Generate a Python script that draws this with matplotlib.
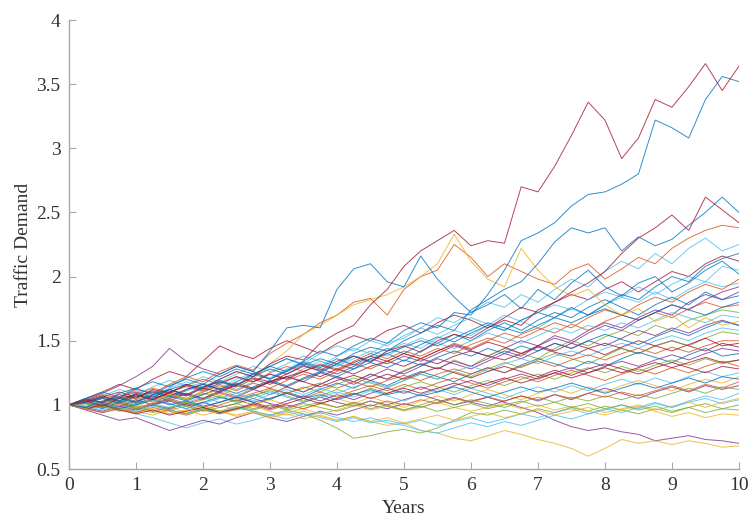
import numpy as np
import matplotlib
matplotlib.use('Agg')
import matplotlib.pyplot as plt
from matplotlib.ticker import FuncFormatter

# sample times (years), one value every quarter year
years = np.linspace(0, 10, 41)

# demand paths (quarter-year samples)
p01 = [1.00, 1.04, 1.02, 1.08, 1.05, 1.12, 1.09, 1.16, 1.13, 1.20, 1.26, 1.22, 1.32, 1.38, 1.35, 1.48, 1.56, 1.62, 1.78, 1.90, 2.08, 2.20, 2.28, 2.36, 2.24, 2.28, 2.26, 2.70, 2.66, 2.86, 3.10, 3.36, 3.22, 2.92, 3.08, 3.38, 3.32, 3.48, 3.66, 3.45, 3.64]
p02 = [1.00, 0.98, 1.03, 1.06, 1.02, 1.08, 1.12, 1.07, 1.14, 1.18, 1.15, 1.24, 1.30, 1.26, 1.34, 1.42, 1.38, 1.46, 1.52, 1.48, 1.58, 1.64, 1.60, 1.72, 1.70, 1.86, 2.05, 2.28, 2.34, 2.42, 2.55, 2.64, 2.66, 2.72, 2.80, 3.22, 3.16, 3.08, 3.38, 3.56, 3.52]
p03 = [1.00, 1.03, 0.99, 1.05, 1.08, 1.04, 1.10, 1.07, 1.13, 1.10, 1.16, 1.21, 1.18, 1.24, 1.30, 1.27, 1.34, 1.38, 1.33, 1.42, 1.46, 1.41, 1.50, 1.55, 1.52, 1.60, 1.66, 1.62, 1.74, 1.80, 1.88, 1.95, 2.04, 2.18, 2.30, 2.38, 2.48, 2.36, 2.62, 2.52, 2.42]
p04 = [1.00, 1.02, 1.06, 1.03, 1.09, 1.05, 1.12, 1.16, 1.12, 1.19, 1.15, 1.22, 1.28, 1.24, 1.31, 1.36, 1.32, 1.40, 1.45, 1.42, 1.50, 1.56, 1.62, 1.58, 1.74, 1.82, 1.90, 1.96, 2.10, 2.27, 2.38, 2.34, 2.38, 2.20, 2.31, 2.24, 2.29, 2.40, 2.50, 2.62, 2.50]
p05 = [1.00, 1.05, 1.02, 1.09, 1.13, 1.08, 1.15, 1.20, 1.16, 1.24, 1.30, 1.26, 1.42, 1.60, 1.62, 1.60, 1.90, 2.06, 2.10, 1.96, 1.92, 2.16, 1.98, 1.84, 1.72, 1.78, 1.86, 1.75, 1.90, 1.82, 1.95, 2.05, 1.92, 1.85, 1.95, 2.00, 1.88, 1.95, 2.05, 2.12, 2.02]
p06 = [1.00, 0.97, 1.03, 1.00, 1.06, 1.02, 1.08, 1.05, 1.11, 1.07, 1.14, 1.20, 1.32, 1.42, 1.55, 1.62, 1.70, 1.78, 1.82, 1.86, 1.92, 2.00, 2.10, 2.33, 2.12, 1.98, 1.92, 2.22, 2.05, 1.92, 1.85, 1.90, 1.78, 1.70, 1.75, 1.65, 1.70, 1.60, 1.68, 1.62, 1.65]
p07 = [1.00, 1.04, 1.08, 1.05, 1.12, 1.09, 1.16, 1.22, 1.18, 1.26, 1.31, 1.27, 1.40, 1.48, 1.55, 1.64, 1.70, 1.80, 1.83, 1.70, 1.90, 2.00, 2.05, 2.25, 2.15, 2.00, 2.10, 2.04, 1.98, 1.94, 2.05, 2.10, 1.98, 2.06, 2.15, 2.10, 2.22, 2.30, 2.36, 2.40, 2.38]
p08 = [1.00, 1.03, 1.07, 1.02, 1.06, 1.10, 1.05, 1.12, 1.17, 1.13, 1.20, 1.25, 1.21, 1.28, 1.34, 1.30, 1.38, 1.44, 1.40, 1.48, 1.52, 1.60, 1.68, 1.64, 1.72, 1.80, 1.76, 1.86, 1.80, 1.90, 1.98, 1.92, 2.04, 2.12, 2.06, 2.18, 2.10, 2.22, 2.30, 2.20, 2.25]
p09 = [1.00, 1.05, 1.10, 1.16, 1.12, 1.20, 1.26, 1.22, 1.34, 1.46, 1.40, 1.36, 1.44, 1.50, 1.45, 1.40, 1.48, 1.54, 1.50, 1.58, 1.62, 1.56, 1.64, 1.70, 1.66, 1.60, 1.68, 1.76, 1.72, 1.80, 1.86, 1.82, 1.90, 1.96, 1.88, 1.96, 2.04, 2.00, 2.10, 2.16, 2.12]
p10 = [1.00, 1.04, 1.09, 1.15, 1.22, 1.30, 1.44, 1.34, 1.28, 1.24, 1.30, 1.26, 1.20, 1.26, 1.32, 1.28, 1.24, 1.30, 1.36, 1.32, 1.38, 1.34, 1.40, 1.46, 1.42, 1.38, 1.44, 1.50, 1.46, 1.54, 1.50, 1.58, 1.64, 1.60, 1.68, 1.74, 1.70, 1.80, 1.86, 1.82, 1.88]
p11 = [1.00, 0.98, 1.02, 1.06, 1.01, 1.05, 1.09, 1.04, 1.08, 1.12, 1.07, 1.13, 1.18, 1.14, 1.10, 1.16, 1.22, 1.18, 1.24, 1.20, 1.27, 1.32, 1.28, 1.35, 1.30, 1.38, 1.44, 1.40, 1.36, 1.44, 1.50, 1.46, 1.53, 1.58, 1.54, 1.62, 1.58, 1.66, 1.70, 1.74, 1.72]
p12 = [1.00, 1.02, 0.98, 1.03, 1.08, 1.04, 1.10, 1.14, 1.10, 1.16, 1.12, 1.18, 1.24, 1.20, 1.28, 1.34, 1.30, 1.38, 1.34, 1.42, 1.48, 1.44, 1.52, 1.58, 1.54, 1.62, 1.70, 1.65, 1.60, 1.68, 1.75, 1.70, 1.78, 1.84, 1.80, 1.88, 1.82, 1.90, 1.96, 1.92, 1.95]
p13 = [1.00, 1.03, 1.00, 1.05, 1.02, 1.07, 1.12, 1.08, 1.04, 1.10, 1.15, 1.12, 1.18, 1.22, 1.18, 1.25, 1.32, 1.28, 1.36, 1.40, 1.34, 1.42, 1.48, 1.55, 1.50, 1.58, 1.64, 1.58, 1.66, 1.72, 1.68, 1.76, 1.82, 1.76, 1.70, 1.78, 1.84, 1.78, 1.88, 1.82, 1.85]
p14 = [1.00, 1.02, 1.06, 1.03, 1.08, 1.13, 1.10, 1.15, 1.20, 1.16, 1.22, 1.18, 1.25, 1.30, 1.26, 1.32, 1.28, 1.34, 1.40, 1.36, 1.42, 1.38, 1.44, 1.40, 1.47, 1.52, 1.48, 1.55, 1.60, 1.56, 1.63, 1.58, 1.65, 1.70, 1.66, 1.72, 1.68, 1.75, 1.80, 1.76, 1.78]
p15 = [1.00, 1.04, 1.01, 1.06, 1.10, 1.06, 1.12, 1.08, 1.14, 1.18, 1.14, 1.20, 1.16, 1.22, 1.26, 1.22, 1.28, 1.24, 1.30, 1.34, 1.30, 1.36, 1.32, 1.38, 1.42, 1.38, 1.35, 1.40, 1.45, 1.41, 1.38, 1.44, 1.48, 1.44, 1.40, 1.46, 1.50, 1.46, 1.42, 1.48, 1.45]
p16 = [1.00, 0.97, 1.01, 0.98, 1.03, 1.07, 1.03, 1.09, 1.05, 1.11, 1.16, 1.12, 1.18, 1.14, 1.20, 1.25, 1.21, 1.16, 1.22, 1.28, 1.24, 1.30, 1.36, 1.32, 1.28, 1.34, 1.40, 1.36, 1.42, 1.48, 1.44, 1.50, 1.46, 1.52, 1.58, 1.54, 1.60, 1.56, 1.62, 1.66, 1.62]
p17 = [1.00, 1.02, 0.99, 1.03, 0.99, 1.04, 1.08, 1.04, 1.09, 1.06, 1.02, 1.07, 1.12, 1.09, 1.14, 1.10, 1.16, 1.21, 1.17, 1.13, 1.19, 1.24, 1.20, 1.26, 1.22, 1.28, 1.33, 1.29, 1.35, 1.40, 1.36, 1.32, 1.38, 1.44, 1.40, 1.46, 1.50, 1.46, 1.52, 1.57, 1.55]
p18 = [1.00, 1.03, 1.07, 1.12, 1.08, 1.14, 1.19, 1.15, 1.22, 1.18, 1.24, 1.30, 1.26, 1.32, 1.38, 1.34, 1.30, 1.36, 1.42, 1.38, 1.46, 1.52, 1.48, 1.44, 1.50, 1.56, 1.52, 1.48, 1.54, 1.60, 1.56, 1.62, 1.58, 1.64, 1.60, 1.66, 1.72, 1.68, 1.64, 1.70, 1.68]
p19 = [1.00, 0.98, 1.02, 0.97, 1.01, 1.05, 1.01, 0.97, 1.02, 1.06, 1.03, 1.08, 1.04, 1.10, 1.06, 1.12, 1.17, 1.13, 1.19, 1.15, 1.21, 1.26, 1.22, 1.18, 1.24, 1.29, 1.25, 1.31, 1.36, 1.32, 1.28, 1.34, 1.30, 1.36, 1.41, 1.37, 1.33, 1.39, 1.44, 1.38, 1.40]
p20 = [1.00, 1.02, 0.98, 1.01, 0.97, 1.00, 1.04, 1.00, 0.96, 1.00, 1.04, 1.00, 1.05, 1.09, 1.05, 1.10, 1.06, 1.11, 1.15, 1.11, 1.16, 1.12, 1.17, 1.21, 1.17, 1.13, 1.18, 1.22, 1.18, 1.23, 1.27, 1.23, 1.19, 1.24, 1.28, 1.24, 1.29, 1.25, 1.30, 1.34, 1.30]
p21 = [1.00, 0.97, 0.94, 0.98, 0.95, 0.92, 0.96, 0.93, 0.97, 1.00, 0.96, 1.00, 1.04, 1.00, 0.97, 1.01, 1.05, 1.01, 1.06, 1.02, 0.98, 1.03, 1.07, 1.03, 1.08, 1.12, 1.08, 1.04, 1.09, 1.13, 1.09, 1.14, 1.10, 1.15, 1.19, 1.15, 1.11, 1.16, 1.20, 1.17, 1.22]
p22 = [1.00, 1.02, 0.98, 1.01, 0.97, 1.00, 1.03, 0.99, 1.02, 0.98, 1.01, 1.05, 1.01, 0.98, 1.02, 1.06, 1.02, 0.99, 1.03, 1.00, 1.04, 1.08, 1.04, 1.00, 1.03, 1.06, 1.02, 0.98, 0.94, 0.88, 0.83, 0.80, 0.82, 0.79, 0.77, 0.72, 0.74, 0.76, 0.73, 0.72, 0.70]
p23 = [1.00, 0.98, 1.01, 0.97, 0.99, 0.95, 0.98, 0.94, 0.97, 0.93, 0.96, 0.99, 0.95, 0.92, 0.95, 0.91, 0.88, 0.91, 0.87, 0.84, 0.86, 0.80, 0.78, 0.74, 0.72, 0.76, 0.80, 0.77, 0.73, 0.70, 0.66, 0.60, 0.66, 0.73, 0.70, 0.72, 0.69, 0.72, 0.70, 0.67, 0.68]
p24 = [1.00, 0.97, 0.99, 0.95, 0.97, 0.94, 0.96, 0.93, 0.97, 0.94, 0.98, 0.95, 0.92, 0.96, 0.93, 0.88, 0.82, 0.74, 0.76, 0.79, 0.81, 0.78, 0.82, 0.88, 0.94, 0.92, 0.96, 0.93, 0.97, 0.94, 0.98, 0.95, 0.99, 0.96, 0.93, 0.97, 0.94, 0.98, 1.01, 0.97, 1.00]
p25 = [1.00, 0.97, 0.94, 0.97, 0.93, 0.90, 0.86, 0.82, 0.86, 0.89, 0.85, 0.88, 0.92, 0.89, 0.93, 0.90, 0.87, 0.90, 0.86, 0.88, 0.85, 0.88, 0.84, 0.87, 0.90, 0.86, 0.89, 0.93, 0.90, 0.94, 0.97, 0.93, 0.96, 1.00, 0.97, 1.01, 0.98, 1.02, 1.05, 1.01, 1.04]
p26 = [1.00, 0.96, 0.92, 0.88, 0.90, 0.85, 0.80, 0.84, 0.88, 0.85, 0.90, 0.94, 0.90, 0.87, 0.91, 0.95, 0.92, 0.96, 1.00, 0.97, 1.01, 0.98, 1.02, 1.06, 1.02, 0.99, 1.03, 1.07, 1.03, 1.08, 1.04, 1.09, 1.13, 1.09, 1.05, 1.10, 1.14, 1.10, 1.15, 1.12, 1.15]
p27 = [1.00, 1.04, 1.00, 1.06, 1.11, 1.07, 1.13, 1.18, 1.14, 1.20, 1.26, 1.22, 1.30, 1.36, 1.32, 1.40, 1.46, 1.42, 1.50, 1.46, 1.54, 1.60, 1.55, 1.62, 1.68, 1.63, 1.58, 1.66, 1.72, 1.78, 1.74, 1.82, 1.88, 1.84, 1.92, 1.86, 1.94, 2.00, 1.96, 2.08, 2.05]
p28 = [1.00, 1.01, 1.05, 1.02, 1.07, 1.04, 1.09, 1.05, 1.10, 1.15, 1.11, 1.17, 1.13, 1.19, 1.24, 1.20, 1.26, 1.32, 1.28, 1.34, 1.40, 1.36, 1.42, 1.48, 1.44, 1.50, 1.56, 1.52, 1.58, 1.64, 1.60, 1.68, 1.74, 1.70, 1.78, 1.84, 1.80, 1.88, 1.94, 1.90, 1.98]
p29 = [1.00, 0.98, 1.02, 0.99, 1.04, 1.00, 1.05, 1.09, 1.05, 1.10, 1.06, 1.12, 1.08, 1.14, 1.10, 1.16, 1.22, 1.18, 1.24, 1.20, 1.26, 1.32, 1.28, 1.34, 1.30, 1.36, 1.42, 1.38, 1.46, 1.52, 1.48, 1.56, 1.62, 1.58, 1.66, 1.72, 1.78, 1.74, 1.82, 1.88, 1.92]
p30 = [1.00, 1.05, 1.10, 1.06, 1.13, 1.18, 1.14, 1.21, 1.26, 1.22, 1.28, 1.24, 1.30, 1.36, 1.31, 1.26, 1.32, 1.38, 1.34, 1.40, 1.45, 1.50, 1.46, 1.52, 1.58, 1.64, 1.60, 1.56, 1.62, 1.68, 1.64, 1.70, 1.75, 1.70, 1.66, 1.72, 1.78, 1.74, 1.70, 1.76, 1.80]
p31 = [1.00, 1.02, 1.05, 1.01, 1.04, 1.08, 1.04, 1.00, 1.04, 1.07, 1.03, 1.07, 1.11, 1.07, 1.03, 1.07, 1.12, 1.08, 1.13, 1.09, 1.14, 1.18, 1.14, 1.10, 1.15, 1.19, 1.15, 1.20, 1.24, 1.20, 1.25, 1.29, 1.25, 1.30, 1.26, 1.31, 1.35, 1.31, 1.36, 1.32, 1.35]
p32 = [1.00, 0.99, 0.96, 1.00, 0.97, 1.01, 0.98, 1.02, 1.06, 1.02, 1.07, 1.03, 1.08, 1.12, 1.08, 1.13, 1.09, 1.14, 1.18, 1.14, 1.19, 1.24, 1.20, 1.26, 1.30, 1.26, 1.32, 1.36, 1.32, 1.38, 1.42, 1.38, 1.44, 1.48, 1.44, 1.50, 1.54, 1.50, 1.56, 1.60, 1.58]
p33 = [1.00, 1.03, 0.99, 1.02, 0.98, 1.01, 1.05, 1.01, 1.05, 1.09, 1.05, 1.09, 1.13, 1.09, 1.13, 1.17, 1.13, 1.18, 1.14, 1.19, 1.23, 1.19, 1.24, 1.28, 1.24, 1.29, 1.25, 1.30, 1.34, 1.30, 1.35, 1.39, 1.35, 1.40, 1.44, 1.40, 1.45, 1.41, 1.46, 1.50, 1.50]
p34 = [1.00, 1.03, 1.07, 1.03, 1.08, 1.04, 1.10, 1.15, 1.11, 1.17, 1.22, 1.18, 1.24, 1.20, 1.26, 1.31, 1.27, 1.33, 1.38, 1.34, 1.40, 1.36, 1.42, 1.47, 1.43, 1.49, 1.45, 1.40, 1.46, 1.42, 1.48, 1.44, 1.39, 1.45, 1.50, 1.46, 1.42, 1.47, 1.52, 1.46, 1.48]
p35 = [1.00, 1.01, 0.97, 1.02, 1.06, 1.02, 1.07, 1.03, 1.08, 1.13, 1.09, 1.14, 1.19, 1.15, 1.21, 1.26, 1.22, 1.28, 1.33, 1.29, 1.35, 1.31, 1.37, 1.42, 1.38, 1.44, 1.40, 1.46, 1.42, 1.48, 1.44, 1.50, 1.55, 1.51, 1.47, 1.53, 1.58, 1.54, 1.60, 1.65, 1.62]
p36 = [1.00, 0.98, 0.95, 0.99, 0.96, 1.00, 0.97, 1.01, 0.98, 1.02, 1.06, 1.02, 0.98, 1.03, 1.07, 1.03, 1.08, 1.04, 1.09, 1.13, 1.09, 1.14, 1.10, 1.15, 1.19, 1.15, 1.20, 1.24, 1.20, 1.25, 1.29, 1.25, 1.30, 1.34, 1.30, 1.35, 1.39, 1.35, 1.40, 1.44, 1.42]
p37 = [1.00, 0.98, 1.01, 0.97, 0.94, 0.97, 0.93, 0.96, 0.99, 0.95, 0.92, 0.95, 0.91, 0.94, 0.97, 0.93, 0.96, 1.00, 0.96, 0.99, 0.95, 0.98, 1.02, 0.98, 0.95, 0.98, 1.01, 0.97, 1.00, 0.96, 0.99, 0.95, 0.92, 0.96, 0.99, 0.95, 0.91, 0.94, 0.90, 0.93, 0.92]
p38 = [1.00, 0.97, 1.00, 0.96, 0.99, 0.95, 0.98, 1.02, 0.98, 0.95, 0.99, 0.96, 1.00, 0.97, 1.01, 0.98, 0.95, 0.99, 1.03, 0.99, 0.96, 1.00, 1.04, 1.00, 1.04, 1.01, 0.98, 1.02, 1.06, 1.02, 1.06, 1.03, 1.07, 1.04, 1.08, 1.05, 1.09, 1.13, 1.09, 1.14, 1.12]
p39 = [1.00, 1.03, 0.99, 1.04, 1.00, 1.05, 1.01, 0.97, 1.01, 1.05, 1.09, 1.05, 1.10, 1.06, 1.02, 1.06, 1.10, 1.06, 1.11, 1.07, 1.03, 1.08, 1.12, 1.08, 1.13, 1.09, 1.05, 1.10, 1.14, 1.10, 1.15, 1.11, 1.16, 1.20, 1.16, 1.21, 1.17, 1.22, 1.26, 1.22, 1.25]
p40 = [1.00, 1.02, 1.06, 1.10, 1.06, 1.11, 1.07, 1.12, 1.16, 1.12, 1.17, 1.13, 1.18, 1.22, 1.18, 1.14, 1.19, 1.23, 1.19, 1.24, 1.20, 1.25, 1.29, 1.25, 1.21, 1.26, 1.30, 1.26, 1.22, 1.27, 1.23, 1.28, 1.32, 1.28, 1.24, 1.29, 1.33, 1.29, 1.25, 1.30, 1.28]
p41 = [1.00, 0.98, 1.01, 0.97, 1.00, 1.04, 1.00, 1.03, 0.99, 1.02, 1.06, 1.02, 1.05, 1.09, 1.05, 1.08, 1.04, 1.08, 1.12, 1.08, 1.11, 1.07, 1.10, 1.14, 1.10, 1.06, 1.10, 1.14, 1.10, 1.13, 1.17, 1.13, 1.09, 1.13, 1.17, 1.13, 1.17, 1.21, 1.17, 1.22, 1.20]
p42 = [1.00, 0.97, 0.94, 0.97, 0.94, 0.98, 0.95, 0.92, 0.96, 0.93, 0.97, 1.00, 0.96, 1.00, 0.97, 1.01, 0.98, 1.02, 0.99, 1.03, 1.00, 1.04, 1.01, 1.05, 1.02, 1.06, 1.03, 1.07, 1.04, 1.08, 1.05, 1.09, 1.06, 1.10, 1.07, 1.11, 1.15, 1.11, 1.16, 1.13, 1.18]
p43 = [1.00, 1.02, 0.99, 0.96, 0.99, 0.96, 0.93, 0.96, 0.92, 0.95, 0.91, 0.94, 0.90, 0.93, 0.89, 0.92, 0.88, 0.91, 0.87, 0.90, 0.86, 0.89, 0.92, 0.88, 0.91, 0.94, 0.90, 0.93, 0.96, 0.92, 0.95, 0.98, 0.94, 0.97, 1.00, 0.96, 0.99, 1.02, 0.98, 1.02, 1.05]
p44 = [1.00, 0.99, 1.02, 0.98, 0.95, 0.99, 0.96, 0.93, 0.97, 0.94, 0.98, 0.95, 0.92, 0.95, 0.91, 0.94, 0.90, 0.87, 0.90, 0.86, 0.84, 0.80, 0.78, 0.82, 0.86, 0.83, 0.87, 0.84, 0.88, 0.92, 0.89, 0.93, 0.97, 0.94, 0.98, 1.02, 0.98, 1.03, 1.07, 1.04, 1.09]
p45 = [1.00, 1.02, 1.05, 1.01, 1.06, 1.10, 1.06, 1.11, 1.16, 1.12, 1.18, 1.24, 1.20, 1.27, 1.33, 1.29, 1.36, 1.31, 1.38, 1.44, 1.40, 1.47, 1.53, 1.49, 1.56, 1.62, 1.58, 1.66, 1.72, 1.68, 1.76, 1.70, 1.78, 1.86, 1.82, 1.92, 2.00, 1.96, 2.08, 2.14, 2.18]
p46 = [1.00, 1.01, 0.98, 1.01, 0.97, 1.00, 0.96, 0.99, 0.95, 0.98, 1.01, 0.97, 1.00, 0.96, 0.99, 1.02, 0.98, 1.01, 0.97, 1.00, 0.96, 0.99, 0.95, 0.98, 1.01, 0.97, 1.00, 1.03, 0.99, 1.02, 0.98, 1.01, 0.97, 1.00, 0.96, 0.99, 0.95, 0.98, 0.94, 0.97, 0.96]
p47 = [1.00, 0.97, 1.00, 0.96, 0.93, 0.96, 0.92, 0.95, 0.98, 0.94, 0.97, 1.01, 0.97, 1.01, 1.05, 1.01, 1.05, 1.09, 1.05, 1.09, 1.13, 1.09, 1.13, 1.17, 1.13, 1.17, 1.21, 1.17, 1.21, 1.25, 1.21, 1.25, 1.29, 1.25, 1.29, 1.33, 1.29, 1.33, 1.37, 1.33, 1.35]

# matlab default line colours
c_blue, c_orange, c_yellow, c_purple = '#0072BD', '#D95319', '#EDB120', '#7E2F8E'
c_green, c_cyan, c_red = '#77AC30', '#4DBEEE', '#A2142F'

# background paths first, the extreme ones last so they sit on top
paths = [
    (p08, c_cyan), (p09, c_red), (p10, c_purple), (p11, c_green), (p12, c_cyan),
    (p13, c_blue), (p14, c_orange), (p15, c_red), (p16, c_purple), (p17, c_green),
    (p18, c_cyan), (p19, c_blue), (p20, c_orange), (p21, c_yellow), (p22, c_purple),
    (p23, c_yellow), (p24, c_green), (p25, c_cyan), (p26, c_purple), (p27, c_cyan),
    (p28, c_orange), (p29, c_purple), (p30, c_blue), (p31, c_green), (p32, c_cyan),
    (p33, c_orange), (p34, c_red), (p35, c_blue), (p36, c_purple), (p37, c_yellow),
    (p38, c_green), (p39, c_cyan), (p40, c_red), (p41, c_blue), (p42, c_orange),
    (p43, c_yellow), (p44, c_cyan), (p45, c_blue), (p46, c_green), (p47, c_red),
    (p07, c_orange), (p06, c_yellow), (p05, c_blue), (p04, c_blue), (p03, c_red),
    (p02, c_blue), (p01, c_red),
]

plt.rcParams['font.family'] = 'Liberation Serif'

fig = plt.figure(figsize=(7.48, 5.21), dpi=100)
ax = fig.add_axes([0.0922, 0.0998, 0.8957, 0.8618])

for vals, col in paths:
    ax.plot(years, vals, color=col, lw=0.7, alpha=0.8)

ax.set_xlim(0, 10)
ax.set_ylim(0.5, 4)
ax.set_xticks(range(0, 11))
ax.set_yticks(np.arange(0.5, 4.01, 0.5))
ax.yaxis.set_major_formatter(FuncFormatter(lambda v, p: '%g' % v))

for s in ['top', 'right']:
    ax.spines[s].set_visible(False)
for s in ['left', 'bottom']:
    ax.spines[s].set_color('#a8a8a8')
    ax.spines[s].set_linewidth(1.0)

ax.tick_params(direction='in', length=5, width=0.8, color='#a8a8a8',
               labelsize=14, labelcolor='#333333', pad=6)

ax.set_xlabel('Years', fontsize=14, color='#333333', labelpad=4)
ax.set_ylabel('Traffic Demand', fontsize=14, color='#333333', labelpad=3)

fig.savefig('out.png', dpi=100)
